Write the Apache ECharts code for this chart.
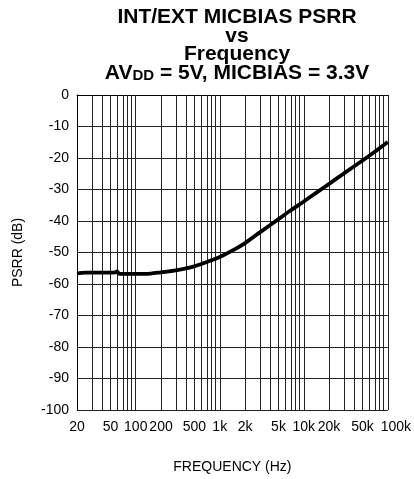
<!DOCTYPE html>
<html>
<head>
<meta charset="utf-8">
<script src="https://cdn.jsdelivr.net/npm/echarts@6/dist/echarts.min.js"></script>
<style>
html,body{margin:0;padding:0;background:#fff;}
#chart{width:414px;height:479px;}
</style>
</head>
<body>
<div id="chart"></div>
<script>
// Data (frequency in Hz, PSRR in dB)
const freqs = [20, 25, 30, 40, 50, 57, 60, 63, 70, 100, 150, 200, 300, 500, 700, 1000, 1500, 2000, 3000, 5000, 7000, 10000, 15000, 20000, 30000, 50000, 70000, 100000];
const psrr  = [-56.6, -56.4, -56.4, -56.4, -56.4, -56.3, -56.0, -56.7, -56.8, -56.8, -56.7, -56.3, -55.7, -54.4, -53.0, -51.4, -49.0, -47.0, -43.6, -39.4, -36.6, -33.8, -30.5, -28.2, -24.9, -20.8, -18.0, -14.9];

// Axis tick labels
const xLabelFreqs = [20, 50, 100, 200, 500, 1000, 2000, 5000, 10000, 20000, 50000, 100000];
const xLabelTexts = ['20', '50', '100', '200', '500', '1k', '2k', '5k', '10k', '20k', '50k', '100k'];
const yMin = -100, yMax = 0, yStep = 10;

// Log-decade grid positions (20 Hz .. 100 kHz)
const gridFreqs = [];
for (let d = 10; d <= 10000; d *= 10) {
  for (let k = (d === 10 ? 2 : 1); k <= 9; k++) gridFreqs.push(k * d);
}
gridFreqs.push(100000);

const lg = v => Math.log10(v);
const FONT = '"Liberation Sans", Arial, sans-serif';

const chart = echarts.init(document.getElementById('chart'), null, {renderer: 'canvas'});
const titleBase = {left: 237, textAlign: 'center', padding: 0,
  textStyle: {fontFamily: FONT, fontWeight: 'bold', fontSize: 21, color: '#000'}};

chart.setOption({
  animation: false,
  backgroundColor: '#fff',
  title: [
    Object.assign({}, titleBase, {text: 'INT/EXT MICBIAS PSRR', top: 6.5}),
    Object.assign({}, titleBase, {text: 'vs', top: 26}),
    Object.assign({}, titleBase, {text: 'Frequency', top: 44}),
    Object.assign({}, titleBase, {
      text: '{m|AV}{s|DD}{m| = 5V, MICBIAS = 3.3V}', top: 62.4,
      textStyle: {
        fontFamily: FONT, fontWeight: 'bold', fontSize: 21, color: '#000',
        rich: {
          m: {fontFamily: FONT, fontWeight: 'bold', fontSize: 21, lineHeight: 21, verticalAlign: 'top', color: '#000'},
          s: {fontFamily: FONT, fontWeight: 'bold', fontSize: 15, lineHeight: 15, verticalAlign: 'bottom', padding: [11, 0, 0, 0], color: '#000'}
        }
      }
    })
  ],
  grid: {left: 77, right: 22, top: 95, bottom: 69, containLabel: false},
  xAxis: {
    type: 'value',
    min: lg(20), max: lg(100000),
    name: 'FREQUENCY (Hz)', nameLocation: 'middle', nameGap: 50,
    nameTextStyle: {fontFamily: FONT, fontSize: 14, color: '#000'},
    axisLine: {show: true, lineStyle: {color: '#000', width: 1}},
    axisTick: {show: false},
    axisLabel: {show: true, customValues: xLabelFreqs.map(lg), margin: 10,
      showMinLabel: true, showMaxLabel: true, hideOverlap: false,
      fontFamily: FONT, fontSize: 14, color: '#000',
      rich: {r: {fontFamily: FONT, fontSize: 14, color: '#000', padding: [0, 0, 0, 16]}},
      formatter: function (v) {
        const f = Math.round(Math.pow(10, v));
        const i = xLabelFreqs.indexOf(f);
        if (i < 0) return '';
        return i === xLabelFreqs.length - 1 ? '{r|' + xLabelTexts[i] + '}' : xLabelTexts[i];
      }},
    splitLine: {show: false}
  },
  yAxis: {
    type: 'value', min: yMin, max: yMax, interval: yStep,
    name: 'PSRR (dB)', nameLocation: 'middle', nameGap: 52,
    nameTextStyle: {fontFamily: FONT, fontSize: 14, color: '#000'},
    axisLine: {show: true, lineStyle: {color: '#000', width: 1}},
    axisTick: {show: false},
    axisLabel: {fontFamily: FONT, fontSize: 14, color: '#000', margin: 8},
    splitLine: {show: true, lineStyle: {color: '#222', width: 1}}
  },
  series: [{
    type: 'line',
    data: freqs.map((f, i) => [lg(f), psrr[i]]),
    showSymbol: false,
    smooth: 0.3,
    lineStyle: {color: '#000', width: 3.8},
    z: 5,
    markLine: {
      silent: true,
      symbol: 'none',
      animation: false,
      label: {show: false},
      lineStyle: {color: '#222', width: 1, type: 'solid'},
      emphasis: {disabled: true},
      data: gridFreqs.map(f => ({xAxis: lg(f)}))
    }
  }]
});
</script>
</body>
</html>
